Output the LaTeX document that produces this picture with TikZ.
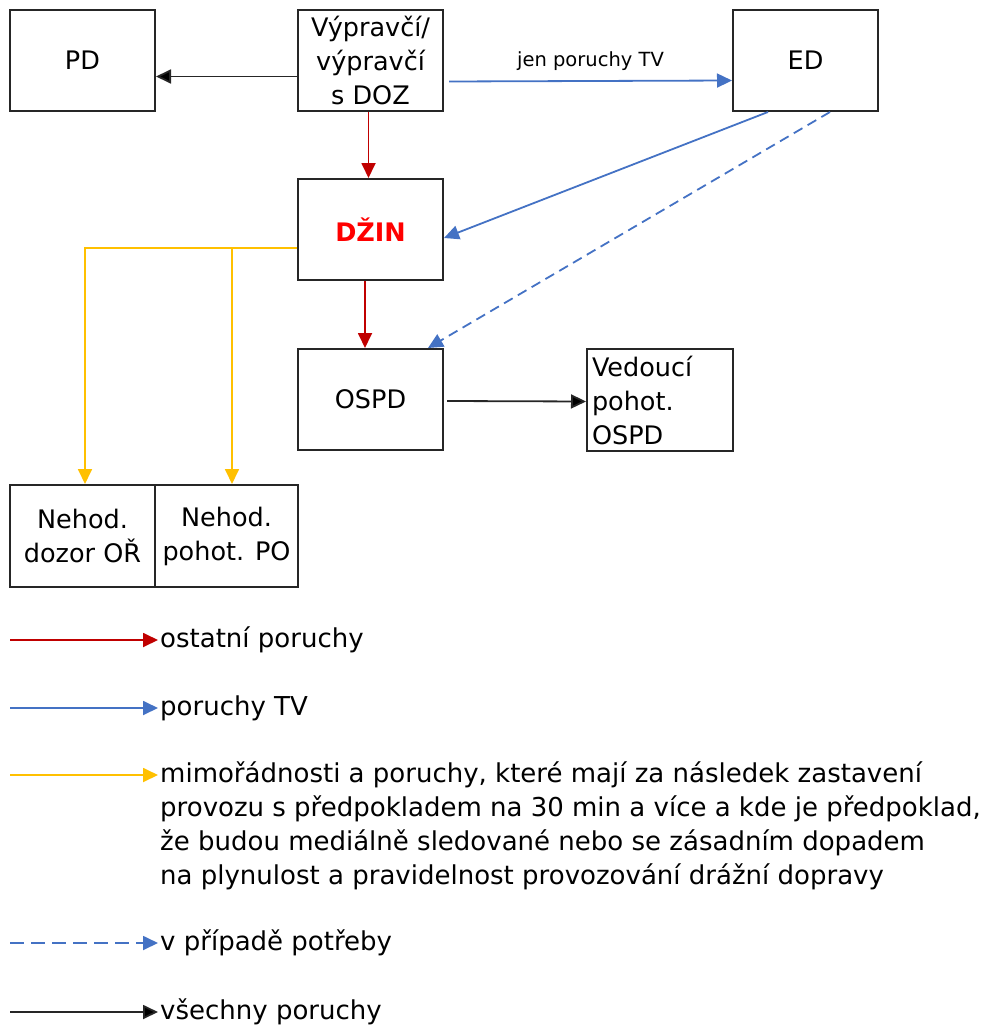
\documentclass[tikz,border=0pt]{standalone}
\usepackage{fontspec}
\setmainfont{DejaVu Sans}
\usetikzlibrary{arrows.meta}
\definecolor{cred}{HTML}{C00000}
\definecolor{cblue}{HTML}{4472C4}
\definecolor{cyel}{HTML}{FFC000}
\definecolor{cdzin}{HTML}{FF0000}
\tikzset{
  box/.style={draw=black!85, line width=2pt, minimum width=145pt, minimum height=101pt, inner sep=1pt, align=center, font=\fontsize{25.5}{34}\selectfont},
  blk/.style={line width=1.8pt, draw=black!85, -{Triangle[length=15pt,width=14pt,fill=black]}},
  rd/.style={line width=1.8pt, draw=cred, -{Triangle[length=15pt,width=14pt,fill=cred]}},
  bl/.style={line width=1.8pt, draw=cblue, -{Triangle[length=15pt,width=14pt,fill=cblue]}},
  yl/.style={line width=1.8pt, draw=cyel, -{Triangle[length=15pt,width=14pt,fill=cyel]}},
  dsh/.style={bl, dash pattern=on 10pt off 6pt},
  leg/.style={anchor=west, inner sep=0pt, font=\fontsize{26}{34.3}\selectfont, align=left}
}
\begin{document}
\begin{tikzpicture}[x=1pt,y=-1pt]
\useasboundingbox (0,0) rectangle (989,1030);
% boxes
\node[box] (PD) at (82.5,60.5) {PD};
\node[box] (V) at (370.5,60.5) {Výpravčí/\\výpravčí\\s DOZ};
\node[box] (ED) at (805.5,60.5) {ED};
\node[box] (DZIN) at (370.5,229.5) {\textcolor{cdzin}{\bfseries DŽIN}};
\node[box] (OSPD) at (370.5,399.5) {OSPD};
\node[box, minimum width=146pt, minimum height=102pt, align=left, text width=136pt, inner xsep=4pt] (VED) at (660,400) {Vedoucí\\pohot.\\OSPD};
\node[box, minimum height=102pt] (N1) at (82.5,536) {Nehod.\\dozor OŘ};
\node[box, minimum width=143pt, minimum height=102pt] (N2) at (226.5,536) {Nehod.\\pohot. PO};
% connectors
\draw[blk] ([yshift=-16pt]V.west) -- ([yshift=-16pt]PD.east);
\draw[bl] ([xshift=5pt,yshift=-21pt]V.east) -- ([yshift=-20pt]ED.west)
  node[midway, above=6pt, text=black, font=\fontsize{19.5}{22}\selectfont] (lab) {jen poruchy TV};
\draw[rd] ([xshift=-2pt]V.south) -- ([xshift=-2pt]DZIN.north);
\draw[bl] ([xshift=-37.5pt]ED.south) -- ([yshift=-8.5pt]DZIN.east);
\draw[dsh] ([xshift=24.5pt]ED.south) -- ([xshift=57.5pt]OSPD.north);
\draw[rd] ([xshift=-5.5pt]DZIN.south) -- ([xshift=-5.5pt]OSPD.north);
\coordinate (ybr) at ([yshift=-18.5pt]DZIN.west);
\draw[yl] (ybr) -| ([xshift=2.5pt]N1.north);
\draw[yl] (ybr -| N2.north) ++(5.5,0) coordinate (yb2) -- (yb2 |- N2.north);
\draw[blk] ([xshift=3pt,yshift=-1.5pt]OSPD.east) -- ([yshift=-1.5pt]VED.west);
% legend
\coordinate (l1) at (10,640);
\coordinate (l2) at (10,708);
\coordinate (l3) at (10,775);
\coordinate (l4) at (10,943);
\coordinate (l5) at (10,1012);
\node[leg] (t1) at (160,640) {ostatní poruchy};
\node[leg] (t2) at (160,708) {poruchy TV};
\node[leg, anchor=north west] (t3) at (160,761) {mimořádnosti a poruchy, které mají za následek zastavení\\provozu s předpokladem na 30 min a více a kde je předpoklad,\\že budou mediálně sledované nebo se zásadním dopadem\\na plynulost a pravidelnost provozování drážní dopravy};
\node[leg] (t4) at (160,943) {v případě potřeby};
\node[leg] (t5) at (160,1012) {všechny poruchy};
\draw[rd] (l1) -- ([xshift=-2pt]t1.west);
\draw[bl] (l2) -- ([xshift=-2pt]t2.west);
\draw[yl] (l3) -- ([xshift=-2pt]l3 -| t3.west);
\draw[bl, dash pattern=on 14pt off 7pt] (l4) -- ([xshift=-2pt]t4.west);
\draw[blk] (l5) -- ([xshift=-2pt]t5.west);
\end{tikzpicture}
\end{document}
